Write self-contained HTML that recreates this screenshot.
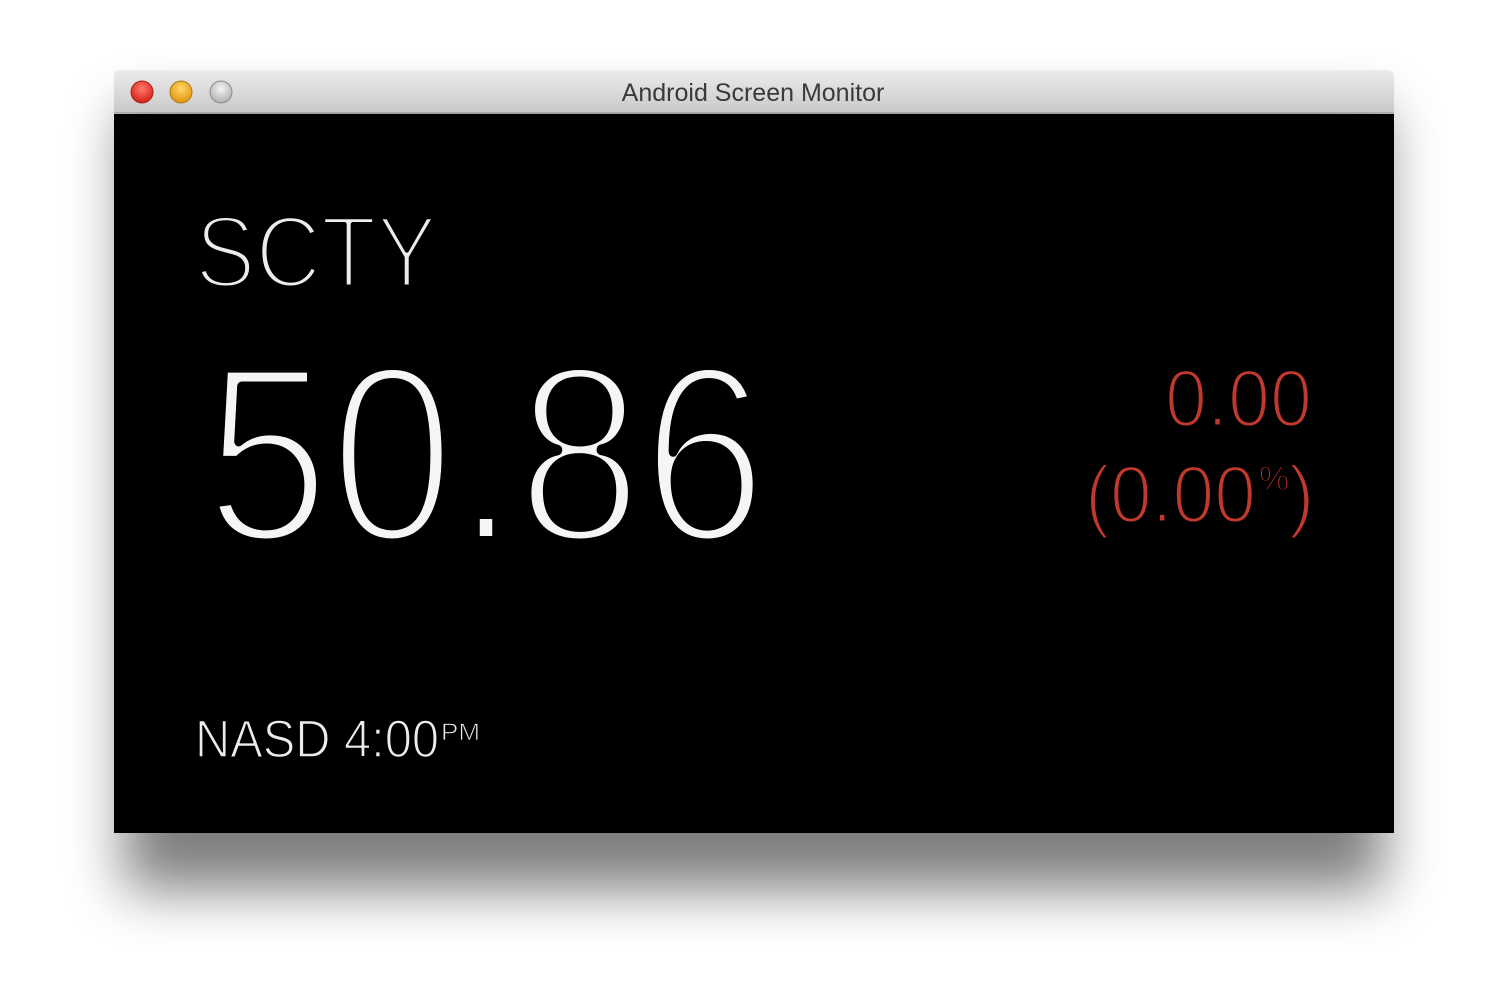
<!DOCTYPE html>
<html>
<head>
<meta charset="utf-8">
<style>
  html,body{margin:0;padding:0;background:#fff;width:1508px;height:992px;overflow:hidden;}
  svg{display:block;}
  text{font-family:"Liberation Sans",sans-serif;paint-order:fill stroke;stroke-linejoin:round;}
</style>
</head>
<body>
<svg width="1508" height="992" viewBox="0 0 1508 992">
  <defs>
    <filter id="sh" x="-20%" y="-20%" width="140%" height="160%">
      <feGaussianBlur stdDeviation="28"/>
    </filter>
    <linearGradient id="tb" x1="0" y1="0" x2="0" y2="1">
      <stop offset="0" stop-color="#ececec"/>
      <stop offset="1" stop-color="#c9c9c9"/>
    </linearGradient>
    <radialGradient id="rd" cx="0.5" cy="0.35" r="0.6">
      <stop offset="0" stop-color="#ff7a6e"/><stop offset="1" stop-color="#d8261c"/>
    </radialGradient>
    <radialGradient id="yl" cx="0.5" cy="0.35" r="0.6">
      <stop offset="0" stop-color="#ffd66a"/><stop offset="1" stop-color="#e39a12"/>
    </radialGradient>
    <radialGradient id="gr" cx="0.5" cy="0.35" r="0.6">
      <stop offset="0" stop-color="#f4f4f4"/><stop offset="1" stop-color="#b5b5b5"/>
    </radialGradient>
  </defs>
  <rect x="124" y="110" width="1260" height="780" fill="#000" opacity="0.5" filter="url(#sh)"/>
  <g>
    <path d="M114 76 a6 6 0 0 1 6 -6 H1388 a6 6 0 0 1 6 6 V113 H114 Z" fill="url(#tb)"/>
    <line x1="114" y1="113" x2="1394" y2="113" stroke="#8a8a8a" stroke-width="1"/>
    <circle cx="142" cy="92" r="11" fill="url(#rd)" stroke="#a5231b" stroke-width="1"/>
    <circle cx="181" cy="92" r="11" fill="url(#yl)" stroke="#b07a10" stroke-width="1"/>
    <circle cx="221" cy="92" r="11" fill="url(#gr)" stroke="#8c8c8c" stroke-width="1"/>
    <text x="753" y="101" text-anchor="middle" font-size="25" fill="#3a3a3a">Android Screen Monitor</text>
    <rect x="114" y="114" width="1280" height="719" fill="#000"/>
    <text x="195" y="287" font-size="102" fill="#ececec" stroke="#000" stroke-width="5" textLength="242" lengthAdjust="spacingAndGlyphs">SCTY</text>
    <text x="205" y="541" font-size="252" fill="#f5f5f5" stroke="#000" stroke-width="10" textLength="562" lengthAdjust="spacingAndGlyphs">50.86</text>
    <text x="1312" y="426" text-anchor="end" font-size="81" fill="#c0392e" stroke="#000" stroke-width="3" textLength="147" lengthAdjust="spacingAndGlyphs">0.00</text>
    <g fill="#c0392e" stroke="#000" stroke-width="3">
      <text x="1085" y="522" font-size="81" textLength="171" lengthAdjust="spacingAndGlyphs">(0.00</text>
      <text x="1259" y="490" font-size="34" stroke-width="1.5">%</text>
      <text x="1288" y="522" font-size="81">)</text>
    </g>
    <g fill="#ececec" stroke="#000" stroke-width="1.5">
      <text x="195" y="757" font-size="53" textLength="244" lengthAdjust="spacingAndGlyphs">NASD 4:00</text>
      <text x="441" y="740" font-size="24" stroke-width="0.8" textLength="39" lengthAdjust="spacingAndGlyphs">PM</text>
    </g>
  </g>
</svg>
</body>
</html>
